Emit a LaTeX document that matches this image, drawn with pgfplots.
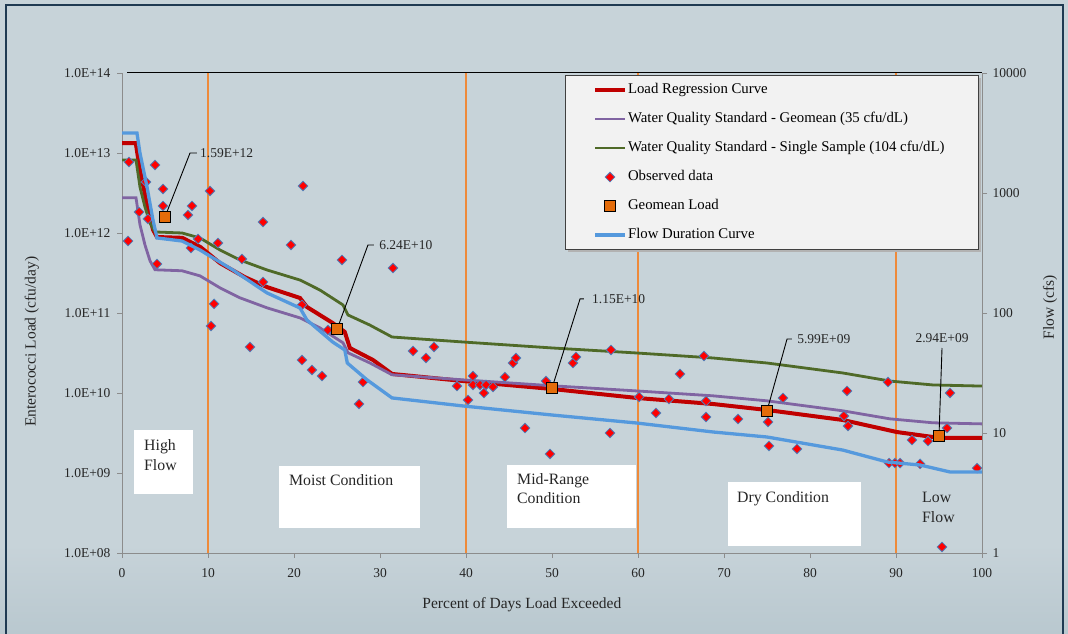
\documentclass[border=0pt]{standalone}
\usepackage{fontspec}
\setmainfont{Liberation Serif}
\usepackage{pgfplots}
\pgfplotsset{compat=1.18}
\definecolor{bgc}{HTML}{C7D3D9}
\definecolor{bgb}{HTML}{B9C8CF}
\definecolor{framec}{HTML}{1F3A52}
\definecolor{lrc}{HTML}{C00000}
\definecolor{wqg}{HTML}{8064A2}
\definecolor{wqs}{HTML}{4F6A28}
\definecolor{fdc}{HTML}{5599DD}
\definecolor{vln}{HTML}{EE8A3A}
\definecolor{obsb}{HTML}{4F81BD}
\definecolor{gml}{HTML}{E46C0A}
\definecolor{axg}{HTML}{8C8C8C}
\definecolor{legf}{HTML}{F2F2F2}
\newcommand{\tfont}{\fontsize{13.5}{16}\selectfont}
\newcommand{\lfont}{\fontsize{15.5}{18}\selectfont}
\newcommand{\rfont}{\fontsize{15.8}{19}\selectfont}
\begin{document}
\begin{tikzpicture}
\path[use as bounding box] (0,0) rectangle (1068pt,634pt);
\fill[bgc] (0,0) rectangle (1068pt,634pt);
\shade[top color=bgc, bottom color=bgb] (0,0) rectangle (1068pt,90pt);
\draw[framec, line width=1.6pt] (6pt,-5pt) -- (6pt,629pt) -- (1063pt,629pt) -- (1063pt,-5pt);

\begin{axis}[
  at={(122pt,81pt)}, anchor=south west, width=860pt, height=480pt, scale only axis,
  xmin=0, xmax=100, ymin=1e8, ymax=1e14, ymode=log,
  axis x line*=bottom, axis y line*=left,
  axis line style={-, draw=axg, line width=0.9pt},
  tick align=outside, major tick length=5pt,
  tick style={draw=axg, line width=0.9pt},
  yminorticks=false, clip=false,
  xtick={0,10,20,30,40,50,60,70,80,90,100},
  xticklabels={0,10,20,30,40,50,60,70,80,90,100},
  ytick={1e8,1e9,1e10,1e11,1e12,1e13,1e14},
  yticklabels={1.0E+08,1.0E+09,1.0E+10,1.0E+11,1.0E+12,1.0E+13,1.0E+14},
  ticklabel style={font=\tfont, text=black!85},
  xticklabel style={yshift=-7pt},
  yticklabel style={xshift=-3pt},
  xlabel={Percent of Days Load Exceeded},
  ylabel={Enterococci Load (cfu/day)},
  label style={font=\lfont, text=black!85},
  xlabel style={at={(axis description cs:0.465,-0.108)}, anchor=center},
  ylabel style={at={(axis description cs:-0.1047,0.44)}, anchor=center},
  legend style={at={(axis description cs:0.5477,0.978)}, anchor=north west,
    draw=none, fill=none, inner sep=0pt, outer sep=0pt,
    font=\fontsize{14.8}{17}\selectfont, row sep=16pt, column sep=1pt,
    nodes={inner sep=0pt, text height=10pt, text depth=3pt}},
  legend cell align=left,
  legend image code/.code={\draw[mark repeat=2,mark phase=2,#1] plot coordinates {(0pt,0pt) (15pt,0pt) (30pt,0pt)};},
]
\draw[vln, line width=1.2pt] (axis cs:10,1e8) -- (axis cs:10,1e14);
\draw[vln, line width=1.2pt] (axis cs:40,1e8) -- (axis cs:40,1e14);
\draw[vln, line width=1.2pt] (axis cs:60,1e8) -- (axis cs:60,1e14);
\draw[vln, line width=1.2pt] (axis cs:90,1e8) -- (axis cs:90,1e14);

\addplot[lrc, line width=4pt, no marks] table {
x y
0 1.33e13
1.6 1.33e13
2.09 6.1e12
2.91 2.3e12
3.60 1.1e12
4.07 8.9e11
7.0 8.7e11
9.1 6.7e11
11.4 4.2e11
14.3 2.8e11
16.9 2.1e11
20.7 1.54e11
21.5 1.19e11
24.5 7.5e10
25.9 5.8e10
26.5 3.65e10
29.2 2.58e10
31.4 1.73e10
39.7 1.41e10
50.1 1.12e10
59.9 8.66e9
68.7 7.29e9
75.0 6.13e9
83.8 4.6e9
90.1 3.25e9
95.1 2.74e9
100 2.74e9
};
\addlegendentry{Load Regression Curve}

\addplot[wqg, line width=2.8pt, no marks] table {
x y
0 2.75e12
1.63 2.75e12
2.09 1.27e12
2.67 7.10e11
3.26 4.48e11
3.84 3.47e11
6.98 3.37e11
9.07 2.91e11
11.4 2.06e11
13.7 1.55e11
16.86 1.16e11
20.7 8.68e10
23.0 6.53e10
25.7 4.24e10
26.28 3.18e10
28.8 2.38e10
31.4 1.69e10
39.65 1.46e10
50.1 1.23e10
59.9 1.06e10
68.7 9.22e9
75.0 7.98e9
83.8 5.99e9
89.3 4.75e9
94.3 4.24e9
100 4.11e9
};
\addlegendentry{Water Quality Standard - Geomean (35 cfu/dL)}

\addplot[wqs, line width=2.8pt, no marks] table {
x y
0 8.17e12
1.63 8.17e12
2.09 3.76e12
2.67 2.11e12
3.26 1.33e12
3.84 1.03e12
6.98 1.00e12
9.07 8.66e11
11.4 6.13e11
13.7 4.6e11
16.86 3.45e11
20.7 2.58e11
23.0 1.94e11
25.7 1.26e11
26.28 9.44e10
28.8 7.08e10
31.4 5.01e10
39.65 4.34e10
50.1 3.65e10
59.9 3.16e10
68.7 2.74e10
75.0 2.37e10
83.8 1.78e10
89.3 1.41e10
94.3 1.26e10
100 1.22e10
};
\addlegendentry{Water Quality Standard - Single Sample (104 cfu/dL)}

\addplot[only marks, mark=square*, mark size=3.4pt, mark options={rotate=45, fill=red, draw=obsb, line width=0.8pt}] table {
x y
0.70 7.94e11
0.81 7.72e12
1.98 1.83e12
2.79 4.34e12
3.02 1.50e12
3.84 7.08e12
4.07 4.10e11
4.77 3.55e12
4.77 2.18e12
7.67 1.68e12
8.14 2.18e12
8.02 6.49e11
8.84 8.41e11
10.23 3.35e12
11.16 7.50e11
10.35 6.88e10
10.70 1.30e11
13.95 4.73e11
14.88 3.76e10
16.40 1.37e12
16.40 2.44e11
19.65 7.08e11
21.05 3.87e12
20.93 1.26e11
20.93 2.58e10
22.09 1.94e10
23.26 1.63e10
23.95 6.13e10
25.58 4.60e11
28.02 1.37e10
27.56 7.29e9
31.51 3.65e11
33.84 3.35e10
35.35 2.74e10
36.28 3.76e10
38.95 1.22e10
40.23 8.18e9
40.81 1.63e10
40.81 1.26e10
41.63 1.26e10
42.33 1.26e10
43.14 1.19e10
42.09 1.00e10
44.53 1.58e10
45.47 2.37e10
45.81 2.74e10
46.86 3.65e9
49.30 1.41e10
49.77 1.73e9
52.44 2.37e10
52.79 2.82e10
56.86 3.45e10
56.74 3.16e9
60.12 8.91e9
62.09 5.62e9
63.60 8.41e9
64.88 1.73e10
67.67 2.90e10
67.91 7.94e9
67.91 5.01e9
71.63 4.73e9
75.12 4.34e9
75.23 2.18e9
76.86 8.66e9
78.49 2.00e9
84.30 1.06e10
83.95 5.16e9
84.42 3.87e9
89.07 1.37e10
89.19 1.33e9
89.88 1.33e9
90.47 1.33e9
91.86 2.58e9
92.79 1.30e9
93.72 2.51e9
95.93 3.65e9
96.28 1.00e10
95.35 1.19e8
99.42 1.15e9
};
\addlegendentry{Observed data}

\addplot[only marks, mark=square*, mark size=5.5pt, mark options={fill=gml, draw=black, line width=0.9pt}] coordinates {
(5,1.59e12) (25,6.24e10) (50,1.15e10) (75,5.99e9) (95,2.94e9)
};
\addlegendentry{Geomean Load}

\addlegendimage{fdc, line width=3.3pt}
\addlegendentry{Flow Duration Curve}

\draw[black, line width=1pt] (rel axis cs:0.006,1) -- (rel axis cs:1,1);
\fill[gray!60] ([xshift=3pt,yshift=-3pt]rel axis cs:0.5151,0.6333) rectangle ([xshift=3pt,yshift=-3pt]rel axis cs:0.9953,0.99583);
\draw[fill=legf, draw=black!75, line width=0.8pt] (rel axis cs:0.5151,0.6333) rectangle (rel axis cs:0.9953,0.99583);

\draw[black, line width=0.9pt] (axis cs:5,1.59e12) -- (axis cs:7.91,1e13) -- (axis cs:8.72,1e13);
\node[anchor=west, font=\tfont, inner sep=0pt, text=black!85] at (axis cs:9.07,1e13) {1.59E+12};
\draw[black, line width=0.9pt] (axis cs:25,6.24e10) -- (axis cs:28.6,7.08e11) -- (axis cs:29.3,7.08e11);
\node[anchor=west, font=\tfont, inner sep=0pt, text=black!85] at (axis cs:29.9,7.08e11) {6.24E+10};
\draw[black, line width=0.9pt] (axis cs:50,1.15e10) -- (axis cs:53.26,1.5e11) -- (axis cs:53.7,1.5e11);
\node[anchor=west, font=\tfont, inner sep=0pt, text=black!85] at (axis cs:54.65,1.5e11) {1.15E+10};
\draw[black, line width=0.9pt] (axis cs:75,5.99e9) -- (axis cs:77.33,4.73e10) -- (axis cs:77.9,4.73e10);
\node[anchor=west, font=\tfont, inner sep=0pt, text=black!85] at (axis cs:78.5,4.73e10) {5.99E+09};
\draw[black, line width=0.9pt] (axis cs:95,2.94e9) -- (axis cs:95.35,3.65e10);
\node[anchor=center, font=\tfont, inner sep=0pt, text=black!85] at (axis cs:95.35,4.87e10) {2.94E+09};
\end{axis}

\begin{axis}[
  at={(122pt,81pt)}, anchor=south west, width=860pt, height=480pt, scale only axis,
  xmin=0, xmax=100, ymin=1, ymax=10000, ymode=log,
  axis x line=none, axis y line*=right,
  axis line style={-, draw=axg, line width=0.9pt},
  tick align=outside, major tick length=5pt,
  tick style={draw=axg, line width=0.9pt},
  yminorticks=false, clip=false,
  ytick={1,10,100,1000,10000},
  yticklabels={1,10,100,1000,10000},
  yticklabel style={font=\tfont, text=black!85, xshift=2pt},
  ylabel={Flow (cfs)},
  ylabel style={font=\lfont, text=black!85, at={(axis description cs:1.079,0.5125)}, anchor=center},
]
\addplot[fdc, line width=3.3pt, no marks] table {
x y
0 3162
1.74 3162
2.09 2154
2.91 1122
3.60 596
4.07 422
6.98 398
9.07 335
12.9 228
16.86 147
20.7 110
21.5 87.5
24.5 57.3
25.9 49.2
26.2 38.3
28.5 27.7
31.4 19.6
39.65 16.8
50.1 14.1
59.9 12.1
68.7 10.2
75.0 9.26
83.8 7.21
89.0 5.73
92.8 5.41
96.3 4.73
100 4.73
};
\end{axis}

\fill[white] (134pt,140pt) rectangle (193pt,204pt);
\node[anchor=base west, font=\rfont, inner sep=0pt, text=black!85] at (144pt,183pt) {High};
\node[anchor=base west, font=\rfont, inner sep=0pt, text=black!85] at (144pt,163pt) {Flow};
\fill[white] (279pt,106pt) rectangle (420pt,168pt);
\node[anchor=base west, font=\rfont, inner sep=0pt, text=black!85] at (289pt,148pt) {Moist Condition};
\fill[white] (507pt,106pt) rectangle (636pt,169pt);
\node[anchor=base west, font=\rfont, inner sep=0pt, text=black!85] at (517pt,149pt) {Mid-Range};
\node[anchor=base west, font=\rfont, inner sep=0pt, text=black!85] at (517pt,130pt) {Condition};
\fill[white] (728pt,88pt) rectangle (861pt,152pt);
\node[anchor=base west, font=\rfont, inner sep=0pt, text=black!85] at (737pt,131pt) {Dry Condition};
\node[anchor=base west, font=\rfont, inner sep=0pt, text=black!85] at (922pt,131pt) {Low};
\node[anchor=base west, font=\rfont, inner sep=0pt, text=black!85] at (922pt,111pt) {Flow};
\end{tikzpicture}
\end{document}
